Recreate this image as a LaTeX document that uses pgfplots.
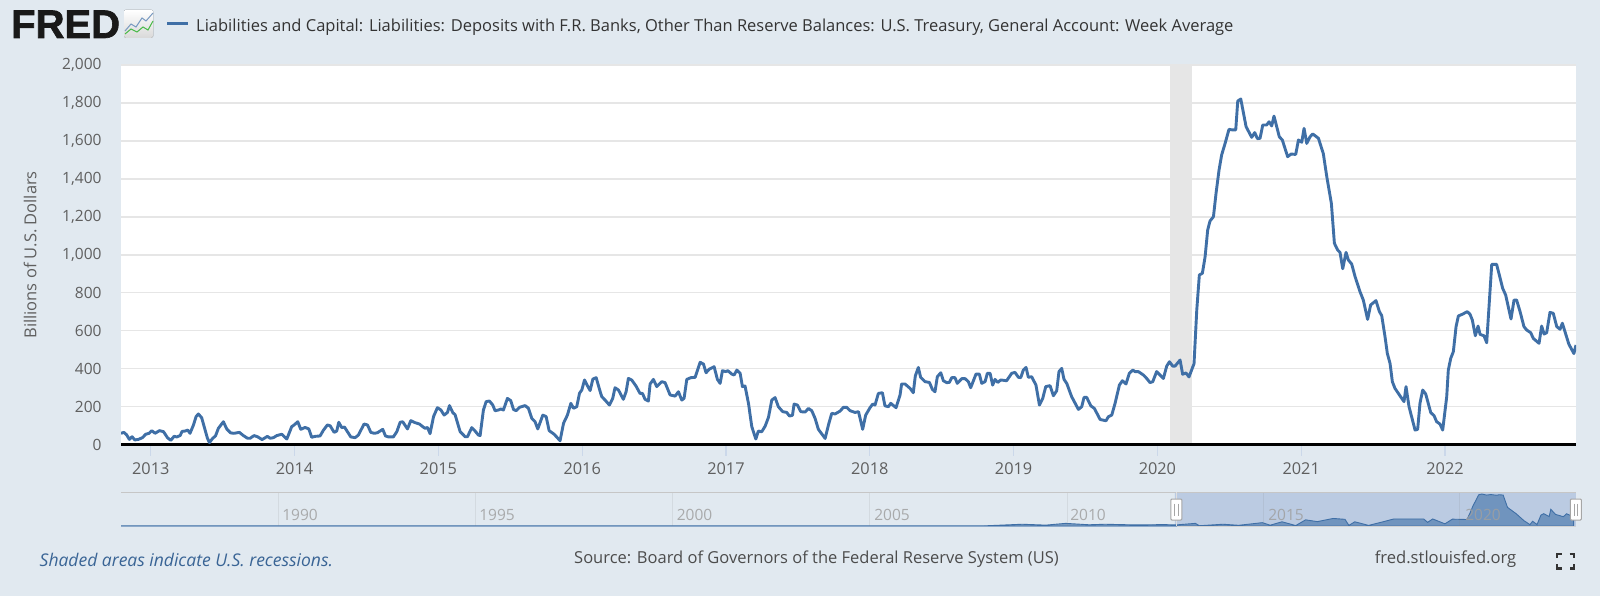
\documentclass[border=0pt]{standalone}
\usepackage{pgfplots}
\usepackage{pgfplotstable}
\usepackage{fontspec}
\setmainfont{Open Sans}
\newfontfamily\logofont[BoldFeatures={FakeBold=1.6}]{Liberation Sans}
\pgfplotsset{compat=1.18}
\definecolor{bgc}{HTML}{E1E9F0}
\definecolor{linec}{HTML}{3F6FA6}
\definecolor{gridc}{HTML}{E6E6E6}
\definecolor{tickc}{HTML}{CBD8EA}
\definecolor{labc}{HTML}{5F5F5F}
\definecolor{titc}{HTML}{333333}
\definecolor{selc}{HTML}{BBCBE2}
\pgfplotstableread{
yr val
2012.793 60
2012.814 65
2012.833 51
2012.851 28
2012.870 42
2012.889 25
2012.914 28
2012.942 37
2012.965 55
2012.988 60
2013.007 74
2013.030 60
2013.060 74
2013.088 69
2013.116 37
2013.139 23
2013.162 44
2013.181 41
2013.204 48
2013.218 70
2013.239 72
2013.257 77
2013.273 60
2013.297 104
2013.315 148
2013.331 162
2013.354 142
2013.378 77
2013.394 34
2013.408 11
2013.431 34
2013.450 46
2013.470 86
2013.505 121
2013.528 83
2013.556 62
2013.579 60
2013.616 65
2013.644 48
2013.672 34
2013.691 34
2013.718 48
2013.742 42
2013.774 27
2013.811 44
2013.830 34
2013.853 37
2013.876 48
2013.911 55
2013.946 30
2013.980 95
2013.997 104
2014.022 121
2014.043 81
2014.073 91
2014.099 83
2014.119 39
2014.143 44
2014.177 46
2014.201 77
2014.228 104
2014.247 100
2014.275 65
2014.293 72
2014.307 118
2014.328 90
2014.347 93
2014.367 69
2014.391 41
2014.421 37
2014.444 51
2014.456 69
2014.483 109
2014.507 104
2014.530 65
2014.553 60
2014.576 63
2014.613 81
2014.632 46
2014.653 41
2014.687 41
2014.711 69
2014.734 118
2014.752 121
2014.785 83
2014.808 127
2014.838 116
2014.868 109
2014.891 95
2014.908 86
2014.924 91
2014.942 58
2014.966 148
2014.993 195
2015.017 183
2015.040 156
2015.063 170
2015.077 206
2015.100 169
2015.116 158
2015.151 69
2015.186 42
2015.202 42
2015.232 90
2015.255 72
2015.278 51
2015.290 48
2015.313 183
2015.332 227
2015.355 230
2015.378 209
2015.394 179
2015.418 183
2015.434 188
2015.452 183
2015.480 244
2015.503 232
2015.522 186
2015.540 179
2015.564 197
2015.603 206
2015.626 192
2015.649 139
2015.672 121
2015.691 83
2015.726 156
2015.749 148
2015.770 74
2015.805 55
2015.846 21
2015.870 113
2015.897 156
2015.921 218
2015.939 192
2015.962 200
2015.981 271
2015.997 288
2016.016 341
2016.036 311
2016.055 285
2016.074 346
2016.097 353
2016.125 279
2016.136 253
2016.159 235
2016.189 209
2016.212 244
2016.228 300
2016.252 288
2016.286 239
2016.305 279
2016.321 349
2016.344 341
2016.374 309
2016.402 270
2016.419 270
2016.437 239
2016.460 230
2016.472 320
2016.495 344
2016.518 306
2016.553 332
2016.576 327
2016.611 262
2016.646 256
2016.669 279
2016.692 235
2016.708 244
2016.727 344
2016.755 353
2016.785 355
2016.820 434
2016.843 425
2016.861 379
2016.882 397
2016.917 411
2016.940 344
2016.959 323
2016.975 390
2016.998 385
2017.012 390
2017.040 372
2017.056 367
2017.075 393
2017.098 376
2017.114 306
2017.132 309
2017.156 218
2017.179 95
2017.207 30
2017.225 72
2017.248 68
2017.272 98
2017.295 144
2017.318 235
2017.341 248
2017.364 200
2017.394 174
2017.422 170
2017.441 151
2017.462 155
2017.473 214
2017.496 209
2017.520 174
2017.550 172
2017.573 191
2017.596 179
2017.619 139
2017.642 81
2017.689 33
2017.712 104
2017.735 165
2017.758 162
2017.793 177
2017.816 197
2017.839 197
2017.863 179
2017.897 170
2017.921 174
2017.932 139
2017.950 81
2017.971 156
2018.001 195
2018.020 214
2018.036 209
2018.059 270
2018.087 274
2018.105 205
2018.129 200
2018.145 218
2018.182 195
2018.210 262
2018.221 320
2018.244 320
2018.279 297
2018.302 274
2018.316 362
2018.337 407
2018.353 355
2018.384 332
2018.414 328
2018.435 291
2018.453 279
2018.469 358
2018.493 379
2018.511 337
2018.534 327
2018.553 328
2018.569 353
2018.592 353
2018.608 323
2018.639 348
2018.662 348
2018.685 332
2018.701 300
2018.738 372
2018.761 372
2018.778 323
2018.801 332
2018.817 376
2018.836 376
2018.854 314
2018.870 344
2018.889 328
2018.910 341
2018.951 337
2018.986 376
2019.009 381
2019.033 355
2019.049 353
2019.067 393
2019.086 407
2019.102 355
2019.125 358
2019.155 314
2019.179 209
2019.202 244
2019.223 306
2019.253 311
2019.276 258
2019.299 284
2019.315 385
2019.334 402
2019.350 344
2019.369 323
2019.403 253
2019.450 186
2019.473 200
2019.489 249
2019.508 249
2019.536 205
2019.561 191
2019.601 133
2019.642 126
2019.658 147
2019.682 156
2019.705 218
2019.735 314
2019.756 337
2019.781 320
2019.804 376
2019.828 393
2019.844 385
2019.867 385
2019.902 367
2019.925 349
2019.948 327
2019.967 332
2019.994 385
2020.041 349
2020.064 414
2020.083 437
2020.106 414
2020.122 414
2020.157 446
2020.175 371
2020.198 378
2020.219 357
2020.254 427
2020.273 709
2020.291 894
2020.312 903
2020.331 990
2020.349 1131
2020.365 1178
2020.389 1201
2020.407 1324
2020.428 1447
2020.446 1526
2020.470 1587
2020.497 1661
2020.521 1658
2020.544 1658
2020.558 1810
2020.579 1821
2020.616 1675
2020.655 1619
2020.676 1644
2020.695 1612
2020.713 1614
2020.732 1684
2020.759 1684
2020.776 1701
2020.794 1679
2020.810 1731
2020.847 1622
2020.868 1605
2020.905 1517
2020.929 1531
2020.961 1529
2020.980 1605
2021.003 1593
2021.019 1666
2021.038 1587
2021.061 1622
2021.079 1637
2021.119 1614
2021.153 1533
2021.177 1412
2021.209 1271
2021.230 1061
2021.253 1025
2021.269 1013
2021.288 927
2021.311 1013
2021.327 973
2021.350 952
2021.374 885
2021.408 806
2021.431 762
2021.461 660
2021.482 736
2021.519 759
2021.543 701
2021.559 680
2021.582 569
2021.598 481
2021.617 428
2021.633 332
2021.651 297
2021.682 262
2021.714 227
2021.728 306
2021.749 200
2021.791 77
2021.809 81
2021.825 218
2021.844 288
2021.865 267
2021.900 169
2021.923 153
2021.941 121
2021.964 109
2021.983 77
2022.011 253
2022.022 393
2022.039 455
2022.057 490
2022.076 622
2022.092 678
2022.122 688
2022.154 701
2022.173 687
2022.189 657
2022.210 574
2022.229 625
2022.243 581
2022.270 574
2022.289 537
2022.324 950
2022.358 950
2022.400 824
2022.421 788
2022.458 662
2022.479 762
2022.497 762
2022.521 701
2022.548 622
2022.567 604
2022.595 590
2022.613 560
2022.653 534
2022.671 625
2022.688 583
2022.706 590
2022.729 697
2022.752 692
2022.776 622
2022.799 608
2022.815 640
2022.860 530
2022.895 480
2022.910 525
}\mainseries
\pgfplotstableread{
yr val
1986.0 5
1988.0 6
1990.0 7
1993.0 8
1996.0 7
2000.0 6
2004.0 7
2007.0 8
2008.0 15
2008.9 100
2009.5 50
2010.0 150
2010.6 70
2011.0 100
2011.8 60
2012.5 80
2012.8 60
2013.3 150
2013.4 15
2014.0 100
2014.4 40
2015.0 190
2015.2 45
2015.5 240
2015.85 25
2016.1 350
2016.4 250
2016.8 430
2017.1 380
2017.2 35
2017.35 240
2017.7 35
2018.0 200
2018.34 400
2019.1 400
2019.2 210
2019.33 400
2019.64 125
2019.83 390
2020.2 370
2020.27 700
2020.35 1130
2020.5 1780
2020.58 1820
2020.7 1760
2020.81 1790
2020.95 1750
2021.02 1780
2021.12 1760
2021.23 1060
2021.45 700
2021.65 300
2021.8 80
2021.87 270
2021.98 80
2022.08 620
2022.15 700
2022.29 540
2022.33 950
2022.45 660
2022.65 530
2022.73 697
2022.91 525
}\navseries
\begin{document}
\begin{tikzpicture}
\useasboundingbox (0pt,0pt) rectangle (1600pt,-596pt);
\fill[bgc] (0pt,0pt) rectangle (1600pt,-596pt);
% navigator
\begin{axis}[name=nav,at={(121pt,-526pt)},anchor=south west,scale only axis,width=1455pt,height=34pt,
  xmin=1986,xmax=2022.97,ymin=0,ymax=1935,hide axis,clip=true]
\addplot[fill=selc,draw=none] coordinates {(2012.78,0)(2012.78,1935)(2022.97,1935)(2022.97,0)} \closedcycle;
\addplot[fill=linec!70!selc,fill opacity=.85,draw=linec,line width=.9pt] table[x=yr,y=val] {\navseries} \closedcycle;
\end{axis}
% main chart
\begin{axis}[name=main,at={(121pt,-444.7pt)},anchor=south west,scale only axis,width=1455pt,height=379.7pt,
  xmin=2012.793,xmax=2022.91,ymin=0,ymax=2000,
  axis background/.style={fill=white},
  axis x line=bottom,axis y line=left,
  x axis line style={-,black,line width=3pt},
  y axis line style={draw=none},
  xtick={2013,...,2022},
  ytick={0,200,...,2000},
  ymajorgrids,grid style={gridc,line width=1.3pt},
  major tick length=11pt,
  x tick style={tickc,line width=1.2pt},
  y tick style={draw=none},
  tick align=outside,
  x tick label style={font=\fontsize{16.3}{18}\selectfont,text=labc,yshift=-3pt,/pgf/number format/.cd,1000 sep={},assume math mode=true},
  y tick label style={font=\fontsize{15.5}{18}\selectfont,text=labc,xshift=-5pt,/pgf/number format/.cd,1000 sep={,},assume math mode=true},
  ylabel={Billions of U.S. Dollars},
  ylabel style={font=\fontsize{16.5}{18}\selectfont,text=labc,at={(axis description cs:-0.0625,0.5)},anchor=center},
  clip=true]
\addplot[fill=gridc,draw=none] coordinates {(2020.085,8)(2020.085,2000)(2020.243,2000)(2020.243,8)} -- cycle;
\addplot[linec,line width=2.9pt,line join=round] table[x=yr,y=val] {\mainseries};
\end{axis}
\begin{scope}[x=1pt,y=-1pt]
% logo
\node[anchor=base west,inner sep=0pt,text=black!90] at (11,38) {\logofont\fontsize{40}{40}\selectfont\bfseries FRED};
\fill[top color=white,bottom color=gray!30,rounded corners=1.5pt] (124,10) rectangle (153,38);
\draw[linec!70!white,line width=1pt] (125,31)--(131,24)--(136,27)--(142,18)--(146,21)--(153,13);
\draw[green!45!gray,line width=1pt] (125,34)--(131,29)--(137,32)--(143,27)--(148,30)--(153,21);
% legend
\draw[linec,line width=2.8pt] (167,23.3)--(188,23.3);
\node[anchor=west,inner sep=0pt,text=titc] at (196,27) {\fontsize{16.5}{18}\selectfont Liabilities and Capital: Liabilities: Deposits with F.R. Banks, Other Than Reserve Balances: U.S. Treasury, General Account: Week Average};
% navigator frame
\draw[gray!45,line width=1.2pt] (121,492.3)--(1576,492.3);
\draw[gray!35,line width=1pt] (1176.8,526.5)--(1576,526.5);
\draw[gray!25,line width=.8pt] (1176.8,492.3)--(1176.8,526);
\draw[linec!60,line width=1pt] (121,526)--(1176.8,526);
\foreach \g in {278,475,672,869,1067,1263,1459}{\draw[gray,opacity=.14,line width=.8pt] (\g,493)--(\g,526);}
\foreach \xx/\lab in {300/1990,497/1995,694.5/2000,892/2005,1088/2010,1286/2015,1483/2020}{
  \node[inner sep=0pt,text=gray!75,opacity=.85] at (\xx,515) {\fontsize{15.5}{18}\selectfont\lab};}
% handles
\foreach \h in {1176.3,1575.8}{
  \draw[gray!70,fill=white,line width=1pt,rounded corners=1pt] (\h-5.5,499)rectangle(\h+5.5,520);
  \draw[gray!70,line width=.8pt] (\h-1.6,503.5)--(\h-1.6,515.5) (\h+1.6,503.5)--(\h+1.6,515.5);}
% footer
\node[anchor=west,inner sep=0pt,text=linec!90!black] at (39.5,559.5) {\fontsize{17.5}{18}\selectfont\itshape Shaded areas indicate U.S. recessions.};
\node[inner sep=0pt,text=labc!80!black] at (816.5,559.5) {\fontsize{16.5}{18}\selectfont Source: Board of Governors of the Federal Reserve System (US)};
\node[anchor=east,inner sep=0pt,text=labc!80!black] at (1516.5,559.5) {\fontsize{16.6}{18}\selectfont fred.stlouisfed.org};
\draw[black!80,line width=2.2pt] (1557,558)--(1557,554)--(1561.5,554) (1569.5,554)--(1574,554)--(1574,558) (1574,564)--(1574,568.5)--(1569.5,568.5) (1561.5,568.5)--(1557,568.5)--(1557,564);
\end{scope}
\end{tikzpicture}
\end{document}
